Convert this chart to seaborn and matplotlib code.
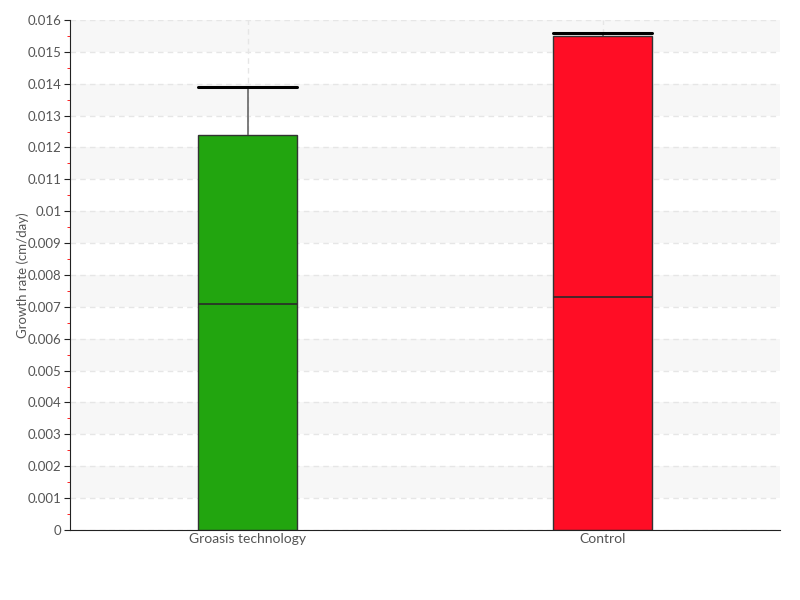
import pandas as pd
import matplotlib.pyplot as plt
import seaborn as sns
from matplotlib.ticker import MultipleLocator

# summary values (cm/day)
groups = ["Groasis technology", "Control"]
box_low = [0.0, 0.0]
medians = [0.0071, 0.0073]
box_high = [0.0124, 0.0155]
whisker_high = [0.0139, 0.0156]
colors = ["#22a50f", "#ff0d25"]
y_ticks = [i / 1000 for i in range(0, 17)]
y_labels = ["0"] + [f"{v:.3f}".rstrip("0") for v in y_ticks[1:]]

# five points per group reproduce the quartiles / whisker exactly
rows = []
for g, lo, med, hi, wh in zip(groups, box_low, medians, box_high, whisker_high):
    for v in [lo, lo, med, hi, wh]:
        rows.append({"group": g, "rate": v})
df = pd.DataFrame(rows)

sns.set_style("white")
plt.rcParams["font.family"] = ["Lato", "DejaVu Sans"]

fig, ax = plt.subplots(figsize=(8, 6), dpi=100)
fig.subplots_adjust(left=0.0875, right=0.975, top=0.9667, bottom=0.1167)

# alternating bands
for i in range(1, 16, 2):
    ax.axhspan(y_ticks[i], y_ticks[i + 1], color="#f7f7f7", zorder=0, lw=0)

sns.boxplot(data=df, x="group", y="rate", hue="group", palette=colors,
            order=groups, width=0.28, whis=10, showfliers=False, saturation=1,
            linecolor="#333333", linewidth=1, legend=False, ax=ax,
            capwidths=0.28,
            whiskerprops=dict(color="#666666", lw=1.2),
            capprops=dict(color="black", lw=2.2),
            medianprops=dict(color="#2a2a2a", lw=1.2))

# hide the bottom caps sitting on the axis
for line in ax.lines:
    y = line.get_ydata()
    if len(y) == 2 and y[0] == y[1] == 0:
        line.set_visible(False)

ax.yaxis.grid(True, linestyle=(0, (4, 3)), color="#e6e6e6", lw=1)
ax.xaxis.grid(True, linestyle=(0, (4, 3)), color="#e6e6e6", lw=1)
ax.set_axisbelow(True)

ax.set_xlim(-0.5, 1.5)
ax.set_ylim(0, 0.016)
ax.set_yticks(y_ticks)
ax.set_yticklabels(y_labels)
ax.yaxis.set_minor_locator(MultipleLocator(0.0005))
ax.tick_params(axis="y", which="major", length=4, color="#222222", labelsize=9.5,
               labelcolor="#555555", left=True, pad=2)
ax.tick_params(axis="y", which="minor", length=2, color="red", left=True)
ax.tick_params(axis="x", length=0, labelsize=10, labelcolor="#555555", pad=2)
ax.set_xlabel("")
ax.set_ylabel("Growth rate (cm/day)", fontsize=9.5, color="#555555")
ax.yaxis.set_label_coords(-0.058, 0.5)

sns.despine(ax=ax)
ax.spines["left"].set_color("#222222")
ax.spines["bottom"].set_color("#222222")

fig.savefig("out.png", dpi=100)
